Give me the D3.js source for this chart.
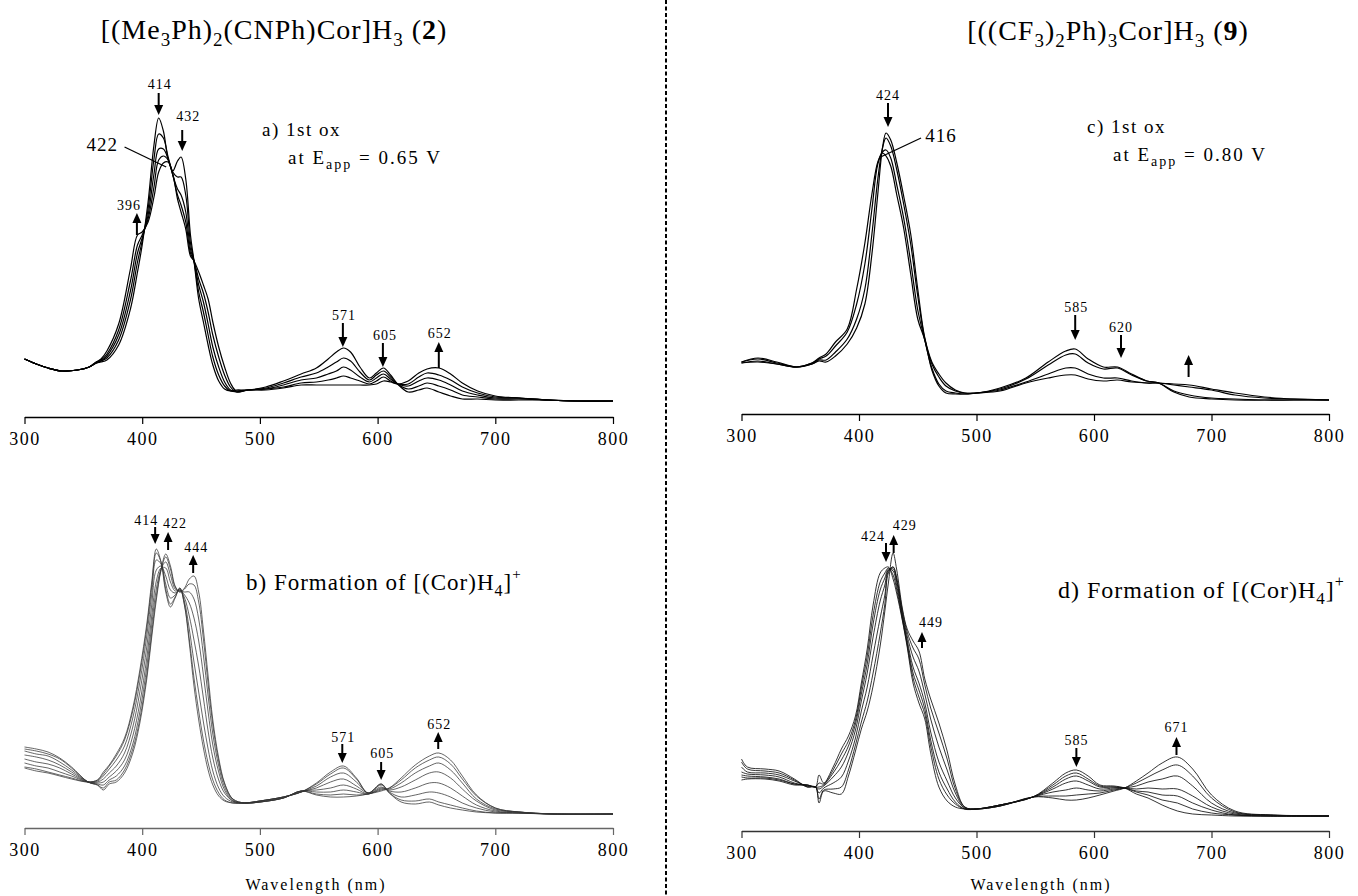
<!DOCTYPE html>
<html>
<head>
<meta charset="utf-8">
<script src="https://cdn.jsdelivr.net/npm/d3@7"></script>
<style>
  body { margin: 0; background: #fff; }
  svg { display: block; }
  svg text { font-family: "Liberation Serif", "Times New Roman", Times, serif !important; }
</style>
</head>
<body>
<svg id="chart" width="1358" height="896"></svg>
<script>
// Absorbance (arbitrary units), one row per wavelength,
// one column per spectrum (first = initial, last = final)
const ticksNm = [300, 400, 500, 600, 700, 800];

// panel a) 1st ox, compound 2 (5 spectra)
const wlA = [300,310,320,332,345,355,361,365,370,380,390,396,400,405,410,414,418,422,426,430,433,437,441,444,448,452,456,460,465,470,475,480,490,505,520,535,548,558,565,571,577,585,593,599,605,611,617,626,635,642,652,662,672,685,700,720,745,770,800];
const absA = [
  [.58,.58,.58,.58,.58],[.53,.53,.53,.53,.53],[.49,.49,.49,.49,.49],[.46,.46,.46,.46,.46],
  [.47,.47,.47,.47,.47],[.50,.50,.50,.50,.50],[.54,.54,.54,.55,.55],[.55,.56,.56,.57,.58],
  [.57,.59,.61,.63,.66],[.72,.77,.82,.87,.93],[1.08,1.17,1.26,1.36,1.48],[1.45,1.55,1.64,1.72,1.82],
  [1.72,1.76,1.79,1.82,1.85],[2.15,2.08,2.02,1.98,1.95],[2.72,2.58,2.43,2.30,2.20],[2.99,2.83,2.68,2.57,2.45],
  [2.86,2.79,2.68,2.61,2.54],[2.58,2.60,2.58,2.57,2.55],[2.46,2.45,2.42,2.42,2.43],[2.56,2.40,2.28,2.22,2.18],
  [2.60,2.40,2.22,2.12,2.05],[2.38,2.22,2.05,1.95,1.88],[1.82,1.74,1.68,1.64,1.61],[1.56,1.56,1.56,1.56,1.56],
  [1.18,1.25,1.32,1.38,1.45],[.95,1.05,1.15,1.24,1.32],[.72,.82,.93,1.05,1.18],[.52,.60,.70,.82,.95],
  [.36,.42,.50,.60,.70],[.28,.31,.35,.42,.50],[.26,.26,.27,.30,.34],[.27,.26,.25,.25,.26],
  [.27,.27,.27,.27,.27],[.30,.29,.28,.28,.27],[.36,.34,.32,.30,.29],[.43,.40,.37,.34,.32],
  [.49,.44,.39,.35,.32],[.58,.50,.43,.37,.32],[.65,.55,.46,.39,.32],[.69,.59,.50,.41,.32],
  [.65,.56,.47,.39,.32],[.50,.45,.40,.36,.32],[.39,.37,.35,.33,.32],[.44,.42,.39,.36,.33],
  [.49,.46,.43,.40,.36],[.42,.40,.38,.36,.35],[.33,.33,.33,.33,.33],[.25,.28,.31,.33,.36],
  [.27,.31,.36,.40,.44],[.29,.34,.39,.44,.48],[.25,.31,.37,.42,.49],[.21,.27,.32,.37,.43],
  [.18,.22,.26,.30,.34],[.18,.20,.22,.24,.26],[.17,.18,.19,.20,.21],[.17,.18,.19,.19,.19],
  [.17,.17,.17,.17,.17],[.16,.16,.16,.16,.16],[.16,.16,.16,.16,.16]
];

// panel b) formation of [(Cor)H4]+, compound 2 (8 spectra)
const wlB = [300,310,320,330,340,354,362,367,372,378,385,392,398,404,408,412,416,420,424,428,432,436,440,444,448,452,456,460,465,470,477,487,500,520,535,548,560,571,582,592,603,610,620,632,644,652,662,672,684,700,720,750,800];
const absB = [
  [.60,.61,.65,.69,.73,.77,.79,.81],[.57,.59,.62,.66,.71,.74,.77,.79],[.55,.56,.60,.64,.68,.72,.74,.76],
  [.52,.53,.56,.60,.63,.66,.69,.70],[.49,.50,.52,.54,.56,.58,.60,.61],[.46,.46,.46,.46,.46,.46,.46,.46],
  [.48,.48,.47,.46,.45,.44,.43,.43],[.56,.54,.52,.49,.46,.43,.40,.38],[.63,.62,.59,.55,.51,.48,.46,.44],
  [.74,.72,.68,.62,.57,.52,.48,.46],[.90,.88,.82,.75,.68,.62,.58,.55],[1.20,1.17,1.10,1.01,.92,.84,.79,.75],
  [1.58,1.54,1.46,1.36,1.25,1.16,1.09,1.05],[2.05,2.01,1.93,1.82,1.71,1.62,1.54,1.50],[2.45,2.41,2.33,2.22,2.11,2.02,1.94,1.90],
  [2.79,2.75,2.68,2.58,2.47,2.39,2.32,2.28],[2.66,2.66,2.64,2.62,2.60,2.59,2.58,2.58],[2.36,2.39,2.44,2.52,2.60,2.66,2.71,2.74],
  [2.21,2.24,2.30,2.38,2.46,2.53,2.59,2.62],[2.30,2.31,2.33,2.35,2.37,2.39,2.41,2.42],[2.40,2.40,2.39,2.38,2.38,2.37,2.36,2.36],
  [2.22,2.23,2.26,2.30,2.33,2.36,2.39,2.40],[1.85,1.89,1.99,2.12,2.25,2.36,2.44,2.49],[1.42,1.50,1.66,1.88,2.10,2.29,2.43,2.52],
  [1.08,1.17,1.36,1.62,1.87,2.09,2.26,2.36],[.80,.88,1.06,1.30,1.53,1.73,1.89,1.98],[.58,.65,.79,.97,1.16,1.32,1.44,1.52],
  [.43,.48,.57,.70,.83,.94,1.03,1.08],[.32,.35,.40,.48,.56,.62,.67,.70],[.27,.28,.31,.35,.38,.41,.44,.45],
  [.25,.25,.26,.27,.27,.28,.29,.29],[.25,.25,.25,.25,.25,.25,.25,.25],[.27,.27,.27,.27,.26,.26,.26,.26],
  [.31,.31,.31,.31,.30,.30,.30,.30],[.36,.36,.36,.36,.37,.37,.37,.37],[.45,.44,.42,.40,.38,.36,.34,.33],
  [.56,.54,.51,.46,.40,.36,.33,.31],[.62,.60,.55,.49,.43,.38,.34,.31],[.50,.49,.46,.42,.39,.36,.33,.32],
  [.35,.35,.35,.35,.34,.34,.34,.34],[.44,.44,.43,.41,.40,.39,.38,.37],[.35,.35,.36,.37,.38,.39,.40,.40],
  [.26,.28,.31,.36,.41,.45,.48,.50],[.24,.27,.33,.40,.48,.55,.60,.63],[.26,.29,.36,.45,.55,.62,.68,.72],
  [.23,.26,.35,.45,.56,.65,.71,.75],[.20,.23,.31,.40,.50,.58,.64,.68],[.18,.20,.25,.32,.39,.45,.49,.52],
  [.16,.17,.20,.23,.27,.29,.32,.33],[.15,.15,.16,.17,.18,.19,.20,.20],[.15,.15,.15,.15,.16,.16,.16,.16],
  [.14,.14,.14,.14,.14,.14,.14,.14],[.14,.14,.14,.14,.14,.14,.14,.14]
];

// panel c) 1st ox, compound 9 (4 spectra)
const wlC = [300,314,330,347,360,366,372,380,390,398,405,411,416,420,423,427,432,438,444,450,456,462,468,474,482,490,500,520,542,561,576,584,595,608,620,632,645,655,668,681,700,720,745,770,800];
const absC = [
  [.52,.52,.51,.51],[.56,.55,.53,.52],[.52,.51,.50,.50],[.47,.47,.47,.47],[.50,.50,.51,.51],
  [.53,.54,.55,.56],[.52,.54,.58,.60],[.58,.62,.68,.72],[.70,.75,.82,.85],[.86,.95,1.10,1.25],
  [1.10,1.25,1.50,1.71],[1.60,1.80,2.05,2.20],[2.20,2.35,2.50,2.52],[2.66,2.66,2.62,2.61],[2.81,2.76,2.64,2.58],
  [2.74,2.68,2.56,2.48],[2.52,2.45,2.30,2.20],[2.18,2.10,1.96,1.86],[1.80,1.70,1.52,1.40],[1.25,1.18,1.04,.95],
  [.76,.75,.74,.74],[.52,.50,.46,.44],[.40,.37,.30,.28],[.31,.28,.23,.21],[.24,.23,.21,.20],
  [.21,.21,.20,.20],[.21,.21,.21,.21],[.26,.25,.24,.23],[.36,.35,.32,.31],[.52,.49,.40,.36],
  [.63,.59,.46,.39],[.65,.60,.46,.39],[.55,.51,.40,.35],[.47,.45,.36,.33],[.47,.46,.36,.34],
  [.40,.39,.33,.32],[.33,.33,.31,.31],[.31,.31,.31,.31],[.22,.23,.29,.30],[.17,.19,.27,.29],
  [.15,.16,.24,.25],[.14,.15,.19,.21],[.14,.14,.16,.17],[.14,.14,.15,.15],[.14,.14,.14,.14]
];

// panel d) formation of [(Cor)H4]+, compound 9 (7 spectra)
const wlD = [300,305,320,332,345,356,363,366,370,378,385,391,397,402,407,412,418,422,425,429,432,437,441,446,451,456,461,468,475,482,490,500,520,548,565,576,585,595,605,617,626,636,646,658,671,684,700,720,750,800];
const absD = [
  [.51,.54,.56,.59,.64,.69,.72],[.52,.53,.55,.57,.59,.62,.64],[.52,.53,.54,.56,.58,.60,.62],
  [.50,.51,.52,.54,.56,.58,.60],[.46,.47,.47,.48,.50,.51,.52],[.46,.46,.46,.45,.45,.44,.44],
  [.44,.44,.44,.44,.44,.44,.44],[.56,.48,.44,.42,.38,.32,.28],[.48,.47,.46,.45,.43,.41,.40],
  [.64,.61,.58,.54,.48,.42,.38],[.82,.77,.71,.64,.54,.44,.37],[.95,.90,.85,.79,.70,.61,.55],
  [1.15,1.11,1.07,1.01,.93,.86,.80],[1.48,1.43,1.37,1.30,1.20,1.09,1.02],[1.82,1.75,1.67,1.58,1.44,1.30,1.20],
  [2.26,2.16,2.07,1.94,1.76,1.58,1.45],[2.58,2.49,2.41,2.30,2.13,1.97,1.85],[2.63,2.58,2.53,2.46,2.36,2.27,2.20],
  [2.64,2.63,2.62,2.61,2.60,2.58,2.48],[2.52,2.56,2.60,2.62,2.64,2.64,2.78],[2.38,2.42,2.46,2.50,2.52,2.54,2.62],
  [2.10,2.11,2.13,2.15,2.17,2.20,2.22],[1.84,1.86,1.88,1.91,1.95,1.99,2.02],[1.48,1.53,1.58,1.64,1.74,1.83,1.90],
  [1.28,1.34,1.41,1.48,1.60,1.72,1.80],[1.12,1.17,1.22,1.28,1.37,1.46,1.52],[.78,.85,.91,.99,1.12,1.23,1.32],
  [.44,.52,.59,.69,.84,.98,1.08],[.30,.36,.42,.50,.61,.72,.80],[.24,.27,.29,.33,.38,.42,.46],
  [.22,.22,.22,.23,.23,.24,.24],[.22,.22,.22,.22,.22,.22,.22],[.26,.26,.26,.26,.25,.25,.25],
  [.34,.34,.34,.34,.34,.34,.34],[.48,.46,.44,.42,.39,.35,.33],[.58,.55,.52,.48,.41,.35,.31],
  [.61,.58,.55,.50,.43,.36,.31],[.55,.52,.50,.46,.41,.37,.33],[.46,.45,.44,.42,.40,.38,.36],
  [.45,.44,.44,.43,.42,.41,.40],[.43,.43,.43,.43,.43,.43,.43],[.37,.39,.40,.42,.45,.48,.50],
  [.33,.36,.39,.43,.49,.54,.58],[.26,.31,.36,.42,.52,.61,.68],[.20,.28,.35,.42,.55,.66,.74],
  [.17,.22,.28,.35,.45,.55,.62],[.16,.18,.21,.24,.28,.33,.36],[.15,.16,.16,.17,.18,.19,.20],
  [.15,.15,.15,.15,.16,.16,.16],[.15,.15,.15,.15,.15,.15,.15]
];

// peak markers: label, wavelength of the arrow, arrow head / tail / label heights (abs. units)
const marksA = [
  {t: '414', wl: 414,   head: 3.02, tail: 3.24, lab: 3.28, dx: 1},
  {t: '432', wl: 434,   head: 2.66, tail: 2.87, lab: 2.96, dx: 6},
  {t: '396', wl: 395.5, head: 2.04, tail: 1.82, lab: 2.07, dx: -8},
  {t: '571', wl: 570.5, head: 0.70, tail: 0.94, lab: 0.97, dx: 1},
  {t: '605', wl: 604.5, head: 0.50, tail: 0.74, lab: 0.77, dx: 2},
  {t: '652', wl: 652,   head: 0.75, tail: 0.49, lab: 0.79, dx: 1}
];
const marksB = [
  {t: '414', wl: 411,   head: 2.84, tail: 3.01, lab: 3.03, dx: -9},
  {t: '422', wl: 422,   head: 2.96, tail: 2.78, lab: 3.00, dx: 7},
  {t: '444', wl: 443.3, head: 2.73, tail: 2.55, lab: 2.76, dx: 3},
  {t: '571', wl: 570,   head: 0.65, tail: 0.84, lab: 0.86, dx: 1},
  {t: '605', wl: 603,   head: 0.48, tail: 0.66, lab: 0.70, dx: 1},
  {t: '652', wl: 651.5, head: 0.96, tail: 0.79, lab: 0.99, dx: 1}
];
const marksC = [
  {t: '424', wl: 424.7, head: 2.87, tail: 3.11, lab: 3.14, dx: 0},
  {t: '585', wl: 584,   head: 0.74, tail: 0.99, lab: 1.02, dx: 1},
  {t: '620', wl: 623,   head: 0.56, tail: 0.79, lab: 0.82, dx: 0},
  {t: '',    wl: 680.5, head: 0.59, tail: 0.37, lab: 0.62, dx: 0}
];
const marksD = [
  {t: '424', wl: 423,   head: 2.69, tail: 2.88, lab: 2.90, dx: -13},
  {t: '429', wl: 429.5, head: 2.96, tail: 2.78, lab: 3.01, dx: 11},
  {t: '449', wl: 453.6, head: 1.99, tail: 1.83, lab: 2.04, dx: 9},
  {t: '585', wl: 585,   head: 0.64, tail: 0.83, lab: 0.86, dx: 0},
  {t: '671', wl: 670.2, head: 0.94, tail: 0.76, lab: 0.99, dx: 0}
];

const svg = d3.select('#chart');
svg.append('rect').attr('width', 1358).attr('height', 896).attr('fill', '#fff');

// dotted separator between the two compounds
svg.append('line')
  .attr('x1', 666).attr('x2', 666).attr('y1', 0).attr('y2', 896)
  .attr('stroke', '#000').attr('stroke-width', 2)
  .attr('stroke-dasharray', '4,2.5');

const panels = [
  {wl: wlA, rows: absA, marks: marksA, x0: 24.5,  x1: 613,  axisY: 417, stroke: '#000', sw: 1.2,  axisColor: '#000'},
  {wl: wlB, rows: absB, marks: marksB, x0: 24.5,  x1: 613,  axisY: 828, stroke: '#333', sw: 0.75, axisColor: '#666', xlabelX: 316},
  {wl: wlC, rows: absC, marks: marksC, x0: 741.5, x1: 1329, axisY: 414, stroke: '#000', sw: 1.2,  axisColor: '#000'},
  {wl: wlD, rows: absD, marks: marksD, x0: 741.5, x1: 1329, axisY: 831, stroke: '#111', sw: 0.85, axisColor: '#333', xlabelX: 1041}
];

const drawArrow = (g, x, yHead, yTail) => {
  const dir = yHead > yTail ? 1 : -1; // 1 = pointing down
  g.append('line')
    .attr('x1', x).attr('x2', x)
    .attr('y1', yTail).attr('y2', yHead - dir * 7)
    .attr('stroke', '#000').attr('stroke-width', 2);
  g.append('path')
    .attr('d', `M${x - 4.5},${yHead - dir * 10} L${x + 4.5},${yHead - dir * 10} L${x},${yHead} Z`)
    .attr('fill', '#000');
};

panels.forEach(p => {
  const x = d3.scaleLinear().domain([300, 800]).range([p.x0, p.x1]);
  const y = d3.scaleLinear().domain([0, 3]).range([p.axisY, p.axisY - 300]);
  const g = svg.append('g');
  p.x = x; p.y = y; p.g = g;

  const line = d3.line()
    .x(d => x(d[0]))
    .y(d => y(d[1]))
    .curve(d3.curveCatmullRom.alpha(0.5));

  const n = p.rows[0].length;
  for (let k = 0; k < n; k++) {
    const pts = p.wl.map((w, i) => [w, p.rows[i][k]]);
    g.append('path')
      .attr('d', line(pts))
      .attr('fill', 'none')
      .attr('stroke', p.stroke)
      .attr('stroke-width', p.sw)
      .attr('stroke-linejoin', 'round');
  }

  // x axis
  const axis = d3.axisBottom(x)
    .tickValues(ticksNm)
    .tickSize(7)
    .tickSizeOuter(0)
    .tickPadding(8)
    .tickFormat(d3.format('d'));
  const ax = g.append('g')
    .attr('transform', `translate(0,${p.axisY})`)
    .call(axis)
    .attr('font-family', null)
    .attr('font-size', null);
  ax.select('.domain').attr('stroke', p.axisColor).attr('stroke-width', 1.3);
  ax.selectAll('.tick line').attr('stroke', p.axisColor).attr('stroke-width', 1.2);
  ax.selectAll('.tick text')
    .attr('fill', '#000')
    .style('font-size', '18px')
    .style('letter-spacing', '1.5px');

  if (p.xlabelX) {
    g.append('text')
      .attr('x', p.xlabelX)
      .attr('y', 890)
      .attr('text-anchor', 'middle')
      .style('font-size', '16px')
      .style('letter-spacing', '2px')
      .text('Wavelength (nm)');
  }

  // peak arrows and labels
  p.marks.forEach(m => {
    const xp = x(m.wl);
    drawArrow(g, xp, y(m.head), y(m.tail));
    if (m.t) {
      g.append('text')
        .attr('x', xp + m.dx)
        .attr('y', y(m.lab))
        .attr('text-anchor', 'middle')
        .style('font-size', '14px')
        .style('letter-spacing', '1px')
        .text(m.t);
    }
  });
});

// leader labels at the crossing points
const leader = (p, t, wlText, vText, wl1, v1, wl2, v2) => {
  p.g.append('text')
    .attr('x', p.x(wlText)).attr('y', p.y(vText))
    .attr('text-anchor', 'middle')
    .style('font-size', '19px').style('letter-spacing', '1px')
    .text(t);
  p.g.append('line')
    .attr('x1', p.x(wl1)).attr('y1', p.y(v1))
    .attr('x2', p.x(wl2)).attr('y2', p.y(v2))
    .attr('stroke', '#000').attr('stroke-width', 1.3);
};
leader(panels[0], '422', 366, 2.66, 385, 2.70, 420.4, 2.50);
leader(panels[2], '416', 469.8, 2.72, 452.8, 2.76, 418.4, 2.57);

// titles
const title = (cx, y, parts) => {
  const t = svg.append('text')
    .attr('x', cx).attr('y', y)
    .attr('text-anchor', 'middle')
    .style('font-size', '28px')
    .style('letter-spacing', '1px');
  parts.forEach(([s, kind]) => {
    const ts = t.append('tspan').text(s);
    if (kind === 'sub') ts.attr('dy', 7).style('font-size', '19px');
    if (kind === 'back') ts.attr('dy', -7);
    if (kind === 'bold') ts.style('font-weight', 'bold');
  });
};
title(274, 39, [['[(Me'], ['3', 'sub'], ['Ph)', 'back'], ['2', 'sub'], ['(CNPh)Cor]H', 'back'], ['3', 'sub'], [' (', 'back'], ['2', 'bold'], [')']]);
title(1108, 40, [['[((CF'], ['3', 'sub'], [')', 'back'], ['2', 'sub'], ['Ph)', 'back'], ['3', 'sub'], ['Cor]H', 'back'], ['3', 'sub'], [' (', 'back'], ['9', 'bold'], [')']]);

// condition notes
const oxNote = (x, y, first, pot) => {
  svg.append('text').attr('x', x).attr('y', y)
    .style('font-size', '19px').style('letter-spacing', '1.5px')
    .text(first);
  const t = svg.append('text').attr('x', x + 26).attr('y', y + 28)
    .style('font-size', '19px').style('letter-spacing', '2px');
  t.append('tspan').text('at E');
  t.append('tspan').attr('dy', 5).style('font-size', '14px').text('app');
  t.append('tspan').attr('dy', -5).text(' = ' + pot);
};
oxNote(262, 136, 'a) 1st ox', '0.65 V');
oxNote(1087, 133, 'c) 1st ox', '0.80 V');

const formNote = (x, y, tag, size) => {
  const t = svg.append('text').attr('x', x).attr('y', y)
    .style('font-size', size + 'px').style('letter-spacing', '1px');
  t.append('tspan').text(tag + ') Formation of [(Cor)H');
  t.append('tspan').attr('dy', 6).style('font-size', (size - 7) + 'px').text('4');
  t.append('tspan').attr('dy', -6).text(']');
  t.append('tspan').attr('dy', -11).style('font-size', (size - 8) + 'px').text('+');
};
formNote(246, 590, 'b', 23);
formNote(1058, 598, 'd', 24);
</script>
</body>
</html>
